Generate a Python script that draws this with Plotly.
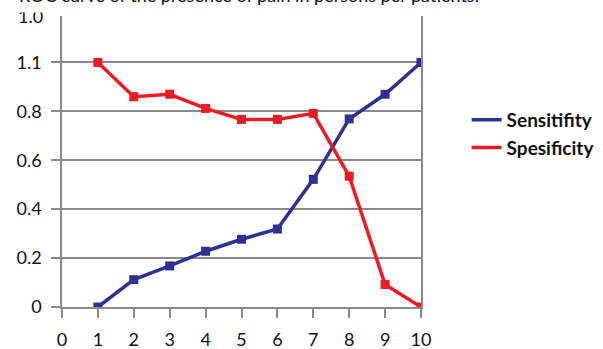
import plotly.graph_objects as go

x_vals = [1, 2, 3, 4, 5, 6, 7, 8, 9, 10]
sensitivity = [0.0, 0.112, 0.168, 0.228, 0.277, 0.319, 0.522, 0.769, 0.870, 1.0]
specificity = [1.0, 0.860, 0.870, 0.812, 0.767, 0.767, 0.792, 0.535, 0.092, 0.0]
y_tickvals = [0, 0.2, 0.4, 0.6, 0.8, 1.0]
y_ticktext = ["0", "0.2", "0.4", "0.6", "0.8", "1.1"]
x_tickvals = list(range(0, 11))
top_label = "1.0"
title_text = "ROC curve of the presence of pain in persons per patients."

BLUE = "#2E3192"
RED = "#ED1C24"
GRID = "#8a8a8a"
FONT = "Lato"

fig = go.Figure()
for name, vals, col in [("Sensitifity", sensitivity, BLUE), ("Spesificity", specificity, RED)]:
    fig.add_trace(go.Scatter(
        x=x_vals, y=vals, name=name, mode="lines+markers", showlegend=False,
        line=dict(color=col, width=3.5),
        marker=dict(symbol="square", size=9, color=col),
    ))
for name, col in [("Sensitifity", BLUE), ("Spesificity", RED)]:
    fig.add_trace(go.Scatter(
        x=[None], y=[None], name=name, mode="lines",
        line=dict(color=col, width=3.5), showlegend=True,
    ))

fig.update_layout(
    width=603, height=349,
    margin=dict(l=62, r=182, t=16, b=42, autoexpand=False),
    paper_bgcolor="white", plot_bgcolor="white",
    font=dict(family=FONT, size=18, color="#111111"),
    showlegend=True,
    legend=dict(
        x=1.127, xanchor="left", y=0.595, yanchor="middle",
        font=dict(family=FONT, size=19, color="#111111", weight="bold"),
        bgcolor="rgba(0,0,0,0)", tracegroupgap=0,
    ),
    xaxis=dict(
        range=[0, 10], tickvals=x_tickvals, showgrid=False, zeroline=False,
        showline=True, linecolor=GRID, linewidth=1.5, automargin=False,
        ticks="outside", ticklen=9, tickcolor=GRID, tickwidth=1.5,
        ticklabelstandoff=7,
        tickfont=dict(family=FONT, size=18, color="#111111"),
        fixedrange=True,
    ),
    yaxis=dict(
        range=[0, 1.19], tickvals=y_tickvals, ticktext=y_ticktext,
        showgrid=True, gridcolor=GRID, gridwidth=1.5, zeroline=False,
        showline=True, linecolor=GRID, linewidth=1.5, mirror=True, automargin=False,
        ticks="outside", ticklen=9, tickcolor=GRID, tickwidth=1.5,
        ticklabelstandoff=6,
        tickfont=dict(family=FONT, size=18, color="#111111"),
        fixedrange=True,
    ),
    annotations=[
        dict(text=top_label, xref="paper", yref="paper", x=0, y=1,
             xanchor="right", yanchor="middle", xshift=-17, yshift=0,
             showarrow=False, font=dict(family=FONT, size=18, color="#111111")),
        dict(text=title_text, xref="paper", yref="paper", x=0, y=1,
             xanchor="left", yanchor="bottom", xshift=-64, yshift=3,
             width=500, height=28, align="center", valign="top",
             bgcolor="white", borderpad=0,
             showarrow=False, font=dict(family=FONT, size=18, color="#111111")),
    ],
)

fig.write_html("out.html", config={"displayModeBar": False},
               post_script="document.body.style.margin='0px';")
